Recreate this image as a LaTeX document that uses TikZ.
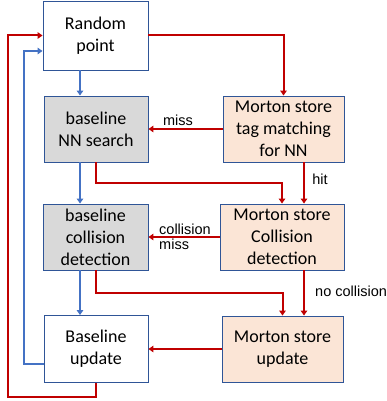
\documentclass[tikz,border=0pt]{standalone}
\usepackage{fontspec}
\setmainfont{Carlito}
\newfontfamily\lblfont{Liberation Sans}
\usetikzlibrary{arrows.meta}
\definecolor{cred}{HTML}{C00000}
\definecolor{cblue}{HTML}{4472C4}
\definecolor{cborder}{HTML}{2F5597}
\definecolor{cgray}{HTML}{D9D9D9}
\definecolor{cpeach}{HTML}{FBE5D6}
\tikzset{
  box/.style={draw=cborder, line width=0.9pt, align=center, inner sep=0pt,
    font=\fontsize{18}{22}\selectfont},
  redline/.style={draw=cred, line width=2pt, -{Triangle[width=6.5pt,length=5pt]}},
  blueline/.style={draw=cblue, line width=2pt, -{Triangle[width=6.5pt,length=5pt]}},
  lbl/.style={inner sep=0pt, font=\lblfont\fontsize{14.5}{15}\selectfont}
}
\begin{document}
\begin{tikzpicture}[x=1pt,y=-1pt]
\useasboundingbox (0,0) rectangle (386,401);
\node[box, fill=white, minimum width=105pt, minimum height=69pt] (rp) at (95.5,35.5) {Random\\point};
\node[box, fill=cgray, minimum width=104pt, minimum height=66pt] (nn) at (96,129) {baseline\\NN search};
\node[box, fill=cpeach, minimum width=121pt, minimum height=66pt] (mt) at (283.5,129) {Morton store\\tag matching\\for NN};
\node[box, fill=cgray, minimum width=105pt, minimum height=66pt] (bc) at (95.5,237) {baseline\\collision\\detection};
\node[box, fill=cpeach, minimum width=124pt, minimum height=66pt] (mc) at (282,237) {Morton store\\Collision\\detection};
\node[box, fill=white, minimum width=104pt, minimum height=67pt] (bu) at (96,349) {Baseline\\update};
\node[box, fill=cpeach, minimum width=121pt, minimum height=66pt] (mu) at (282.5,349) {Morton store\\update};
\coordinate (bx) at (80,0);
\coordinate (rx) at (96,0);
\coordinate (hx) at (304,0);
\coordinate (lx) at (8,0);
\coordinate (blx) at (24,0);
\coordinate (rpb) at ([yshift=-15.5pt]rp.west);
\coordinate (bub) at ([yshift=-15pt]bu.west);
% red paths
\draw[redline] (rp.east) -| (mt.north);
\draw[redline] (mt.west) -- (nn.east);
\draw[redline] (nn.south -| rx) -- ++(0,21) -| (mc.north);
\draw[redline] (mt.south -| hx) -- (mc.north -| hx);
\draw[redline] (mc.west) -- (bc.east);
\draw[redline] (bc.south -| rx) -- ++(0,23) -| (mu.north);
\draw[redline] (mc.south -| hx) -- (mu.north -| hx);
\draw[redline] (mu.west) -- (bu.east);
\draw[redline] (bu.south -| rx) -- ++(0,14) -| (lx |- rp.west) -- (rp.west);
% blue paths
\draw[blueline] (rp.south -| bx) -- (nn.north -| bx);
\draw[blueline] (nn.south -| bx) -- (bc.north -| bx);
\draw[blueline] (bc.south -| bx) -- (bu.north -| bx);
\draw[blueline] (bub) -| (blx |- rpb) -- (rpb);
% labels
\node[lbl] (lmiss) at (178,120) {miss};
\node[lbl] (lhit) at (320,179) {hit};
\node[lbl, anchor=west] (lcol) at (159,229) {collision};
\node[lbl, anchor=west] (lcolm) at (159,244) {miss};
\node[lbl, anchor=west] (lnoc) at (315,291) {no collision};
\end{tikzpicture}
\end{document}
